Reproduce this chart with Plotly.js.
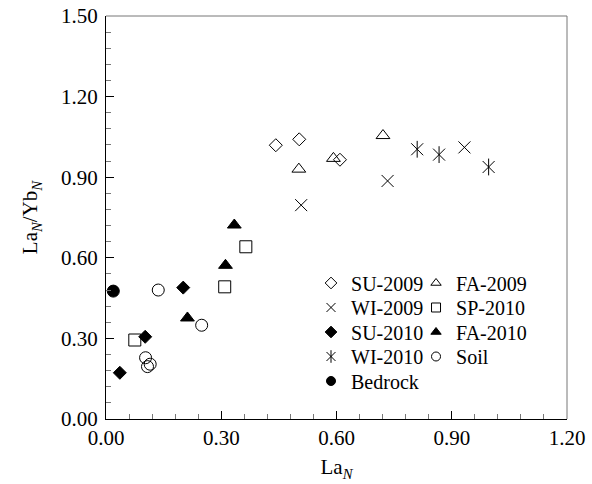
<!DOCTYPE html>
<html>
<head>
<meta charset="utf-8">
<script src="https://cdn.plot.ly/plotly-3.0.1.min.js"></script>
<style>html,body{margin:0;padding:0;background:#fff;}#chart{width:592px;height:484px;}</style>
</head>
<body>
<div id="chart"></div>
<script>
// ---- data ----
const su2009_x = [0.442, 0.503, 0.609];
const su2009_y = [1.019, 1.041, 0.965];
const fa2009_x = [0.502, 0.592, 0.721];
const fa2009_y = [0.930, 0.970, 1.055];
const wi2009_x = [0.508, 0.733, 0.933];
const wi2009_y = [0.796, 0.886, 1.011];
const sp2010_x = [0.364, 0.309, 0.075];
const sp2010_y = [0.641, 0.492, 0.294];
const su2010_x = [0.201, 0.102, 0.036];
const su2010_y = [0.489, 0.306, 0.172];
const fa2010_x = [0.334, 0.311, 0.212];
const fa2010_y = [0.722, 0.572, 0.376];
const wi2010_x = [0.810, 0.867, 0.996];
const wi2010_y = [1.004, 0.984, 0.938];
const soil_x = [0.136, 0.249, 0.103, 0.108, 0.115];
const soil_y = [0.480, 0.349, 0.228, 0.195, 0.204];
const bedrock_x = [0.019];
const bedrock_y = [0.476];

const xTicks = [0, 0.3, 0.6, 0.9, 1.2];
const xTickText = ['0.00', '0.30', '0.60', '0.90', '1.20'];
const yTicks = [0, 0.3, 0.6, 0.9, 1.2, 1.5];
const yTickText = ['0.00', '0.30', '0.60', '0.90', '1.20', '1.50'];

const FONT = 'Liberation Serif, Times New Roman, serif';
const MS = 12;   // plot marker size
const DS = 10;   // diamond marker size
const LMS = 9;   // legend marker size

// data traces (no legend entry)
function pts(x, y, symbol, size) {
  return {type: 'scatter', mode: 'markers', x: x, y: y, showlegend: false, cliponaxis: false,
    marker: {symbol: symbol, size: size || MS, color: '#000', line: {color: '#000', width: 1}}};
}
// legend-only entries (smaller symbols, as in the reference key)
function key(name, symbol, legend) {
  return {type: 'scatter', mode: 'markers', x: [null], y: [null], name: name, legend: legend,
    marker: {symbol: symbol, size: LMS, color: '#000', line: {color: '#000', width: 1}}};
}

const data = [
  pts(su2009_x, su2009_y, 'diamond-open', DS),
  pts(fa2009_x, fa2009_y, 'triangle-up-open'),
  pts(wi2009_x, wi2009_y, 'x-thin-open'),
  pts(sp2010_x, sp2010_y, 'square-open'),
  pts(su2010_x, su2010_y, 'diamond', DS),
  pts(fa2010_x, fa2010_y, 'triangle-up'),
  pts(wi2010_x, wi2010_y, 'x-thin-open'),
  pts(wi2010_x, wi2010_y, 'line-ns-open'),
  pts(soil_x, soil_y, 'circle-open'),
  pts(bedrock_x, bedrock_y, 'circle'),
  key('SU-2009', 'diamond-open', 'legend'),
  key('WI-2009', 'x-thin-open', 'legend2'),
  key('SU-2010', 'diamond', 'legend3'),
  key('WI-2010', 'x-thin-open', 'legend4'),
  key('WI-2010', 'line-ns-open', 'legend10'),
  key('Bedrock', 'circle', 'legend5'),
  key('FA-2009', 'triangle-up-open', 'legend6'),
  key('SP-2010', 'square-open', 'legend7'),
  key('FA-2010', 'triangle-up', 'legend8'),
  key('Soil', 'circle-open', 'legend9')
];

// legend placement
const colX = [0.4447, 0.6725];
const rowY = [0.3375, 0.2767, 0.2159, 0.1551, 0.0943];
function leg(x, y, transparent) {
  return {x: x, y: y, xanchor: 'left', yanchor: 'middle', bgcolor: 'rgba(0,0,0,0)',
    borderwidth: 0, itemclick: false, itemdoubleclick: false,
    font: {family: FONT, size: 20, color: transparent ? 'rgba(255,255,255,0)' : '#000'}};
}

const axisCommon = {
  ticks: 'inside', ticklen: 8, tickwidth: 1, tickcolor: '#000',
  showline: true, linecolor: '#000', linewidth: 1, mirror: false,
  showgrid: false, zeroline: false, tickfont: {family: FONT, size: 21, color: '#000'},
  minor: {dtick: 0.06, ticks: 'inside', ticklen: 5, tickwidth: 1, tickcolor: '#777', showgrid: false}
};

const layout = {
  width: 592, height: 484,
  margin: {l: 106, r: 25, t: 16, b: 65},
  paper_bgcolor: '#fff', plot_bgcolor: '#fff',
  font: {family: FONT, color: '#000'},
  showlegend: true,
  xaxis: Object.assign({}, axisCommon, {
    range: [0, 1.2], tickmode: 'array', tickvals: xTicks, ticktext: xTickText,
    title: {text: 'La<sub><i>N</i></sub>', font: {family: FONT, size: 21, color: '#000'}, standoff: 10}
  }),
  yaxis: Object.assign({}, axisCommon, {
    range: [0, 1.5], tickmode: 'array', tickvals: yTicks, ticktext: yTickText, ticklabelstandoff: 3,
    title: {text: 'La<sub><i>N</i></sub>/Yb<sub><i>N</i></sub>', font: {family: FONT, size: 21, color: '#000'}, standoff: 17}
  }),
  shapes: [
    {type: 'line', xref: 'paper', yref: 'paper', x0: 0, x1: 1, y0: 1, y1: 1, line: {color: '#777', width: 1}},
    {type: 'line', xref: 'paper', yref: 'paper', x0: 1, x1: 1, y0: 0, y1: 1, line: {color: '#777', width: 1}}
  ],
  legend: leg(colX[0], rowY[0]),
  legend2: leg(colX[0], rowY[1]),
  legend3: leg(colX[0], rowY[2]),
  legend4: leg(colX[0], rowY[3]),
  legend5: leg(colX[0], rowY[4]),
  legend6: leg(colX[1], rowY[0]),
  legend7: leg(colX[1], rowY[1]),
  legend8: leg(colX[1], rowY[2]),
  legend9: leg(colX[1], rowY[3]),
  legend10: leg(colX[0], rowY[3], true)
};

Plotly.newPlot('chart', data, layout, {staticPlot: true, displayModeBar: false});
</script>
</body>
</html>
